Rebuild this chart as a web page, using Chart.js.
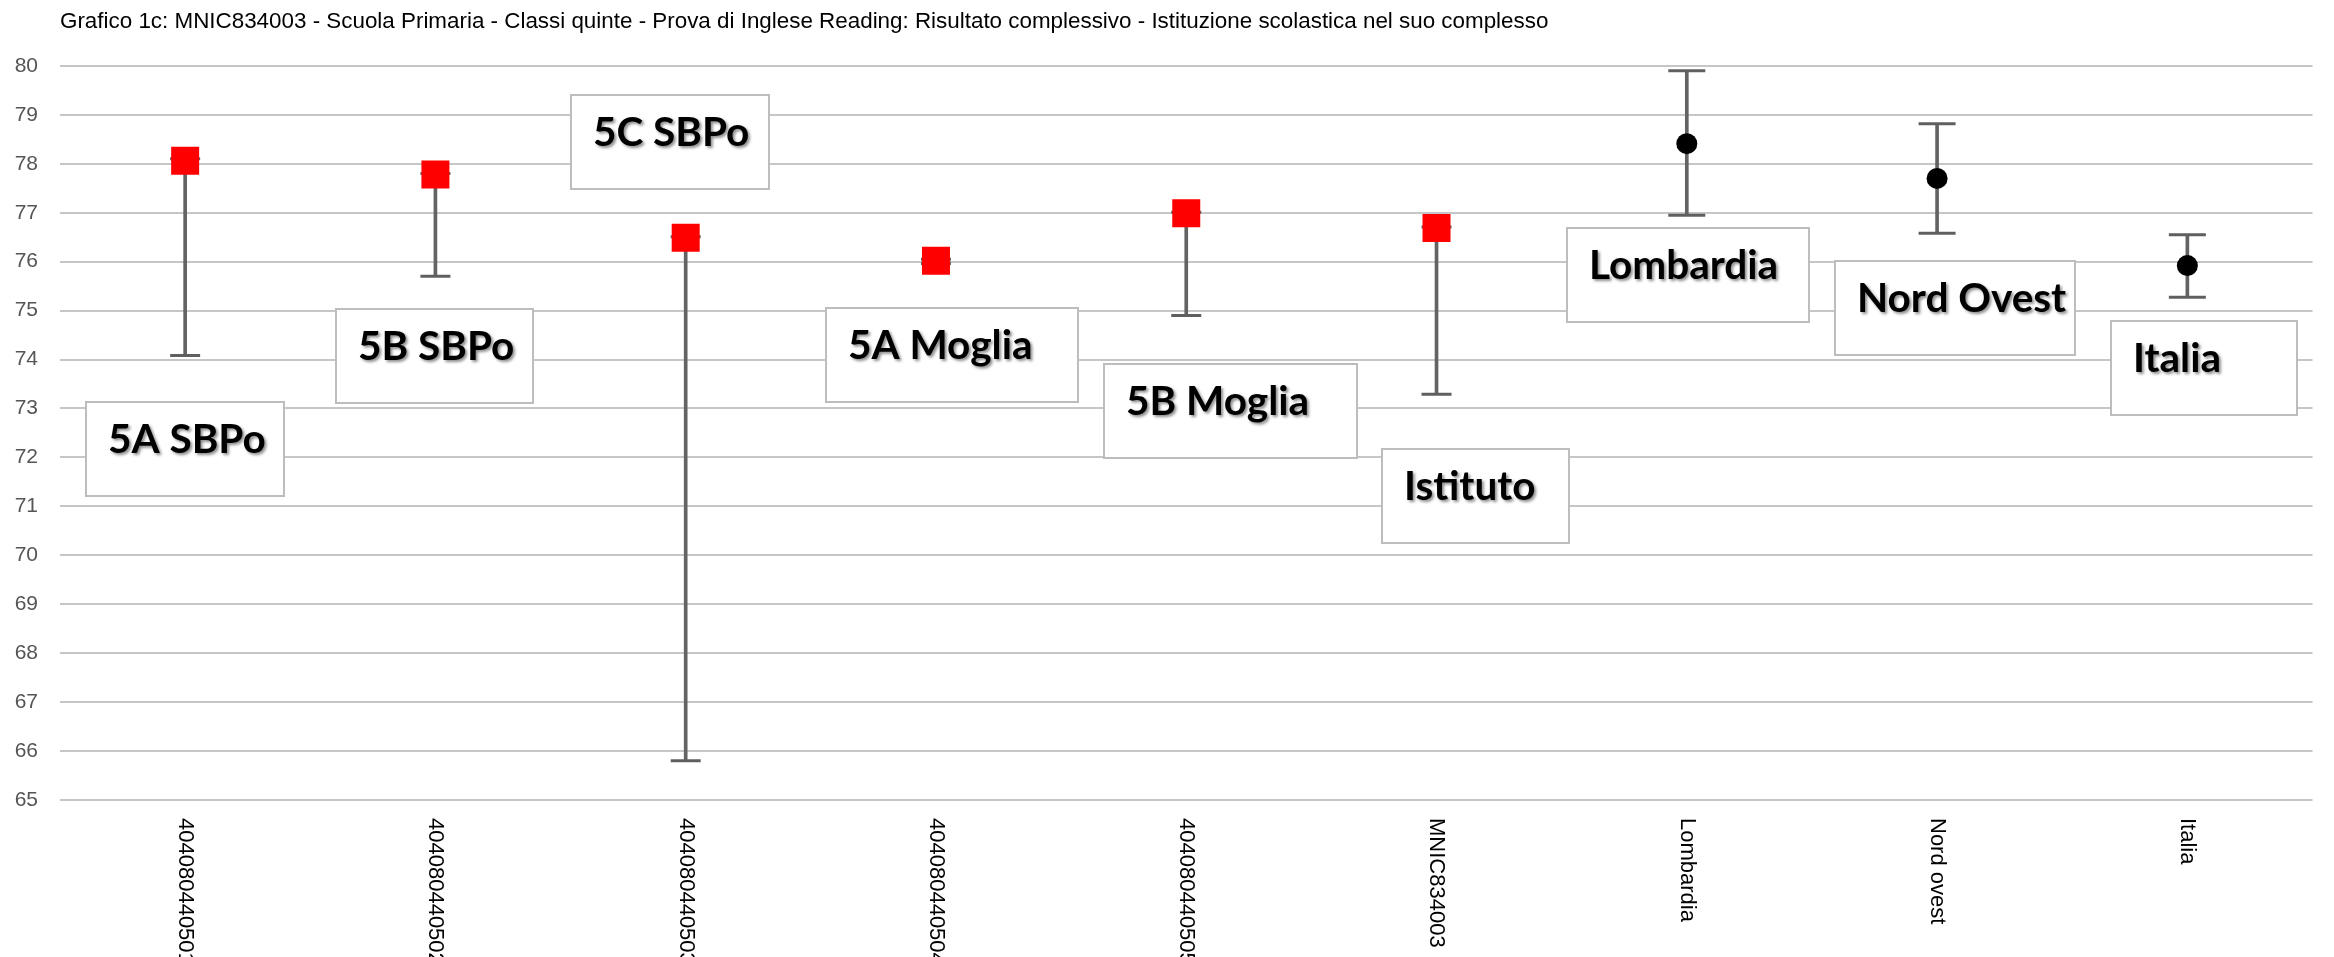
<!DOCTYPE html>
<html>
<head>
<meta charset="utf-8">
<script src="https://cdn.jsdelivr.net/npm/chart.js@4/dist/chart.umd.min.js"></script>
<style>
  html, body { margin: 0; padding: 0; background: #fff; }
  #wrap { width: 2334px; height: 957px; }
</style>
</head>
<body>
<div id="wrap"><canvas id="chart"></canvas></div>
<script>
// Categories (x axis) and the names written in the boxes
var categories = ["404080440501", "404080440502", "404080440503", "404080440504", "404080440505", "MNIC834003", "Lombardia", "Nord ovest", "Italia"];
var boxNames = ["5A SBPo", "5B SBPo", "5C SBPo", "5A Moglia", "5B Moglia", "Istituto", "Lombardia", "Nord Ovest", "Italia"];

// Mean score and interval limits
var meanValues = [78.06, 77.78, 76.49, 76.02, 76.99, 76.69, 78.41, 77.70, 75.92];
var lowerValues = [74.08, 75.70, 65.80, 75.96, 74.90, 73.29, 76.95, 76.58, 75.27];
var upperValues = [78.10, 77.80, 76.51, 76.05, 77.01, 76.71, 79.90, 78.82, 76.55];

// first 6 are classes / school, the rest are reference areas
var schoolCount = 6;

// Y axis range
var yMin = 65;
var yMax = 80;

// Label boxes: left edge in category units, top edge in score units, size in px
var boxLayout = [
  { x: -0.395, y: 73.13, w: 198 },
  { x: 0.601, y: 75.03, w: 197 },
  { x: 1.541, y: 79.41, w: 198 },
  { x: 2.562, y: 75.05, w: 252 },
  { x: 3.670, y: 73.91, w: 253 },
  { x: 4.781, y: 72.18, w: 187 },
  { x: 5.520, y: 76.69, w: 242 },
  { x: 6.592, y: 76.01, w: 240 },
  { x: 7.696, y: 74.78, w: 186 }
];
var BOX_H = 94;

var schoolMeans = meanValues.map(function (v, i) { return i < schoolCount ? v : null; });
var areaMeans = meanValues.map(function (v, i) { return i >= schoolCount ? v : null; });
var capRadius = categories.map(function (c, i) { return i < schoolCount ? 15 : 18.5; });

// Rotated category labels (top to bottom) + text boxes
var overlayPlugin = {
  id: "overlay",
  afterDraw: function (chart) {
    var ctx = chart.ctx;
    var xs = chart.scales.x;
    var ys = chart.scales.y;

    // x labels
    ctx.save();
    ctx.fillStyle = "#000";
    ctx.font = "22px 'Liberation Sans', Arial, sans-serif";
    ctx.textAlign = "left";
    ctx.textBaseline = "middle";
    for (var i = 0; i < categories.length; i++) {
      var px = xs.getPixelForTick(i);
      ctx.save();
      ctx.translate(px, chart.chartArea.bottom + 18);
      ctx.rotate(Math.PI / 2);
      ctx.fillText(categories[i], 0, 0);
      ctx.restore();
    }
    ctx.restore();

    // boxes
    ctx.save();
    for (var j = 0; j < boxNames.length; j++) {
      var b = boxLayout[j];
      var left = Math.round(xs.getPixelForValue(b.x));
      var top = Math.round(ys.getPixelForValue(b.y));
      ctx.fillStyle = "#fff";
      ctx.fillRect(left, top, b.w, BOX_H);
      ctx.strokeStyle = "#bdbdbd";
      ctx.lineWidth = 2;
      ctx.strokeRect(left, top, b.w, BOX_H);

      ctx.font = "bold 40.5px Lato, 'Open Sans', sans-serif";
      ctx.textAlign = "left";
      ctx.textBaseline = "alphabetic";
      ctx.shadowColor = "rgba(0,0,0,0.45)";
      ctx.shadowOffsetX = 2;
      ctx.shadowOffsetY = 2;
      ctx.shadowBlur = 3;
      ctx.fillStyle = "#000";
      ctx.fillText(boxNames[j], left + 22, top + 51);
      ctx.shadowColor = "transparent";
    }
    ctx.restore();
  }
};

new Chart(document.getElementById("chart").getContext("2d"), {
  data: {
    labels: categories,
    datasets: [
      {
        type: "line",
        label: "Classi",
        data: schoolMeans,
        showLine: false,
        pointStyle: "rect",
        pointRadius: 19.8,
        pointBorderWidth: 0,
        pointBackgroundColor: "#ff0000",
        pointBorderColor: "#ff0000",
        order: 0
      },
      {
        type: "line",
        label: "Aree",
        data: areaMeans,
        showLine: false,
        pointStyle: "circle",
        pointRadius: 10.5,
        pointBorderWidth: 0,
        pointBackgroundColor: "#000",
        pointBorderColor: "#000",
        order: 0
      },
      {
        type: "line",
        label: "min",
        data: lowerValues,
        showLine: false,
        pointStyle: "line",
        pointRadius: capRadius,
        pointBorderWidth: 3,
        pointBorderColor: "#5f5f5f",
        order: 1
      },
      {
        type: "line",
        label: "max",
        data: upperValues,
        showLine: false,
        pointStyle: "line",
        pointRadius: capRadius,
        pointBorderWidth: 3,
        pointBorderColor: "#5f5f5f",
        order: 1
      },
      {
        type: "bar",
        label: "intervallo",
        data: lowerValues.map(function (l, i) { return [l, upperValues[i]]; }),
        backgroundColor: "#636363",
        borderWidth: 0,
        barThickness: 3,
        order: 2
      }
    ]
  },
  options: {
    responsive: true,
    maintainAspectRatio: false,
    animation: false,
    events: [],
    layout: { padding: { left: 0, right: 10, top: 0, bottom: 0 } },
    plugins: {
      legend: { display: false },
      tooltip: { enabled: false },
      title: {
        display: true,
        text: "Grafico 1c: MNIC834003 - Scuola Primaria - Classi quinte - Prova di Inglese Reading: Risultato complessivo - Istituzione scolastica nel suo complesso",
        align: "start",
        fullSize: false,
        color: "#000",
        font: { family: "'Liberation Sans', Arial, sans-serif", size: 22.4, weight: "normal" },
        padding: { top: 8, bottom: 31 }
      }
    },
    scales: {
      x: {
        type: "category",
        offset: true,
        grid: { display: false },
        border: { display: false },
        ticks: { display: false },
        afterFit: function (scale) { scale.height = 157; }
      },
      y: {
        min: yMin,
        max: yMax,
        border: { display: false },
        grid: {
          drawTicks: false,
          lineWidth: 2,
          color: function (ctx) {
            if (ctx.tick && Number.isInteger(ctx.tick.value)) return "#c6c6c6";
            return "#e8e8e8";
          }
        },
        ticks: {
          stepSize: 0.5,
          maxTicksLimit: 40,
          padding: 22,
          color: "#555",
          font: { family: "'Liberation Sans', Arial, sans-serif", size: 21 },
          callback: function (v) { return Number.isInteger(v) ? v : ""; }
        },
        afterFit: function (scale) { scale.width = 60; }
      }
    }
  },
  plugins: [overlayPlugin]
});
</script>
</body>
</html>
